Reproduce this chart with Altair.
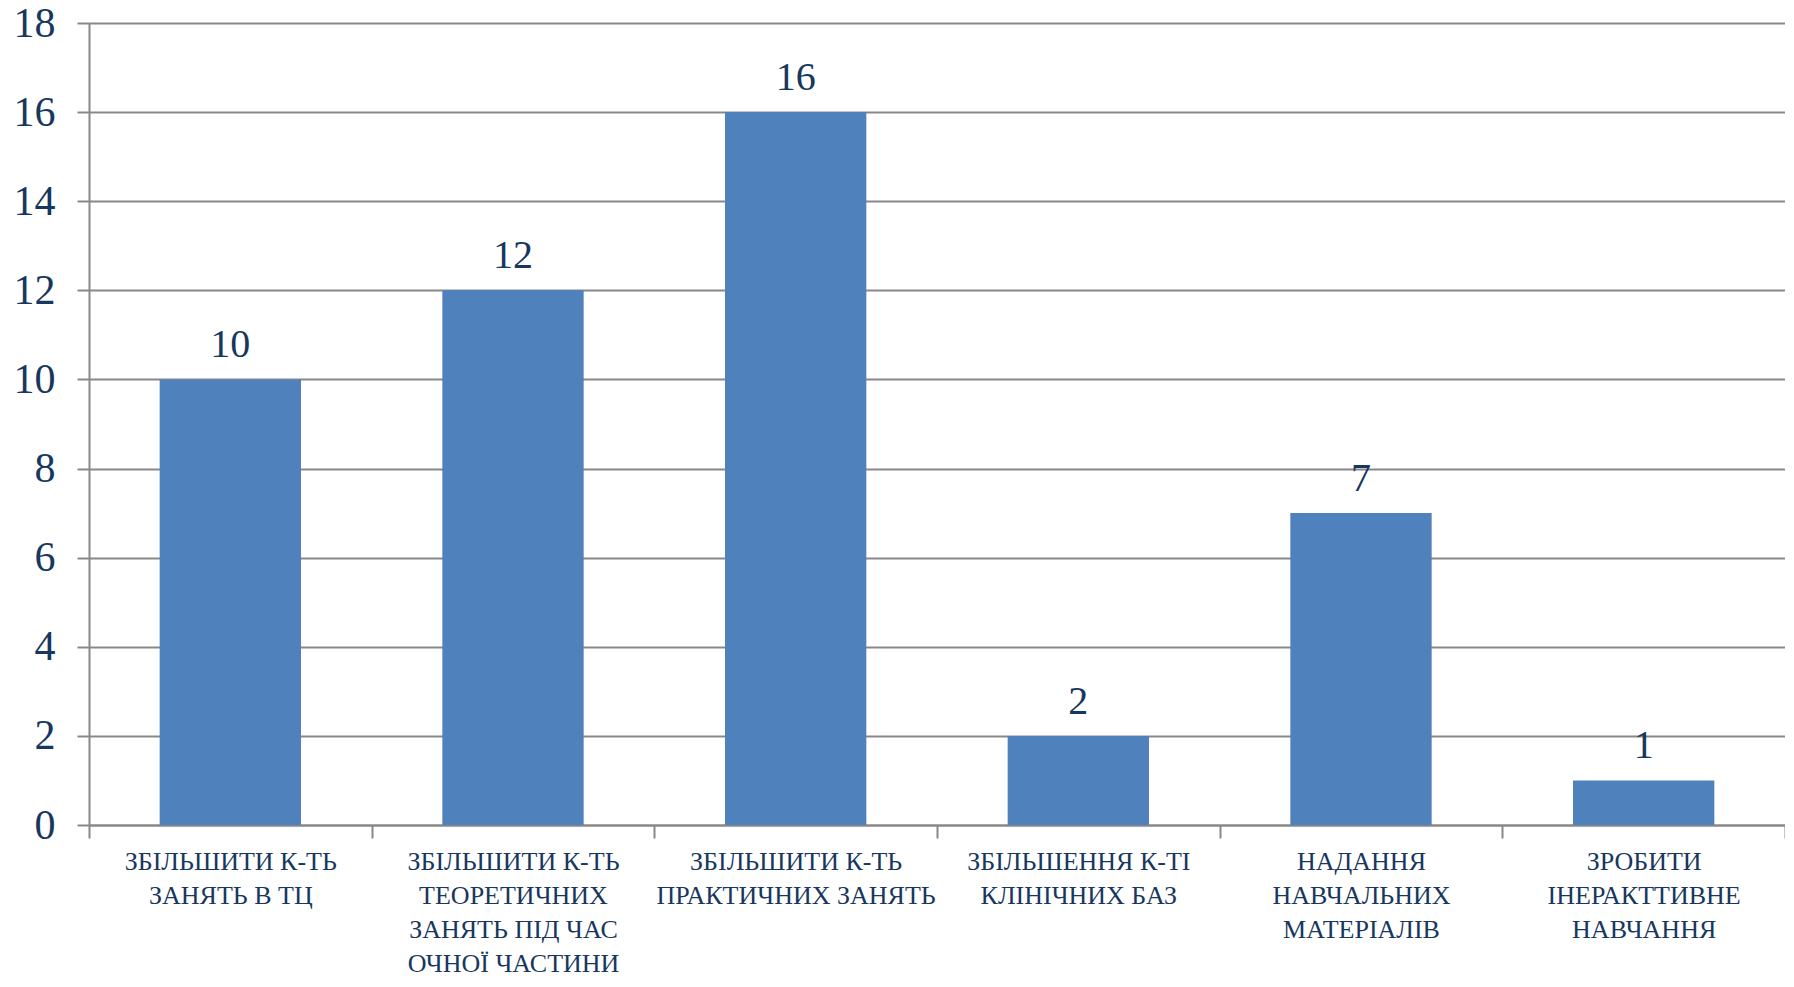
import altair as alt
import pandas as pd

categories = [
    "ЗБІЛЬШИТИ К-ТЬ|ЗАНЯТЬ В ТЦ",
    "ЗБІЛЬШИТИ К-ТЬ|ТЕОРЕТИЧНИХ|ЗАНЯТЬ ПІД ЧАС|ОЧНОЇ ЧАСТИНИ",
    "ЗБІЛЬШИТИ К-ТЬ|ПРАКТИЧНИХ ЗАНЯТЬ",
    "ЗБІЛЬШЕННЯ К-ТІ|КЛІНІЧНИХ БАЗ",
    "НАДАННЯ|НАВЧАЛЬНИХ|МАТЕРІАЛІВ",
    "ЗРОБИТИ|ІНЕРАКТТИВНЕ|НАВЧАННЯ",
]
values = [10, 12, 16, 2, 7, 1]

df = pd.DataFrame({"cat": categories, "val": values})

FONT = "Liberation Serif"
TXT = "#17375E"
GRID = "#888888"

x = alt.X(
    "cat:N",
    sort=categories,
    title=None,
    scale=alt.Scale(paddingInner=0, paddingOuter=0),
    axis=alt.Axis(
        labelExpr="split(datum.label, '|')",
        labelAngle=0,
        labelFont=FONT,
        labelFontSize=26,
        labelColor=TXT,
        labelLineHeight=34,
        labelBaseline="alphabetic",
        labelPadding=31,
        labelLimit=400,
        tickBand="extent",
        tickSize=13,
        tickColor=GRID,
        tickWidth=2,
        domainColor=GRID,
        domainWidth=2,
        grid=False,
    ),
)

y = alt.Y(
    "val:Q",
    title=None,
    scale=alt.Scale(domain=[0, 18], nice=False),
    axis=alt.Axis(
        values=list(range(0, 19, 2)),
        labelFont=FONT,
        labelFontSize=42,
        labelColor=TXT,
        labelPadding=22,
        tickSize=12,
        tickColor=GRID,
        tickWidth=2,
        domainColor=GRID,
        domainWidth=2,
        grid=True,
        gridColor=GRID,
        gridWidth=2,
    ),
)

bars = alt.Chart(df).mark_bar(
    color="#4F81BD", width=alt.RelativeBandSize(0.5)
).encode(x=x, y=y)

labels = alt.Chart(df).mark_text(
    font=FONT, fontSize=40, color=TXT, baseline="alphabetic", dy=-22
).encode(x=alt.X("cat:N", sort=categories), y="val:Q", text="val:Q")

chart = (
    alt.layer(bars, labels)
    .properties(
        width=1696,
        height=802,
        autosize=alt.AutoSizeParams(type="none"),
        padding={"left": 81, "top": 15, "right": 0, "bottom": 154},
    )
    .configure_view(stroke=None)
    .configure(background="white")
)

chart.save("out.html", embed_options={"renderer": "svg", "actions": False})
